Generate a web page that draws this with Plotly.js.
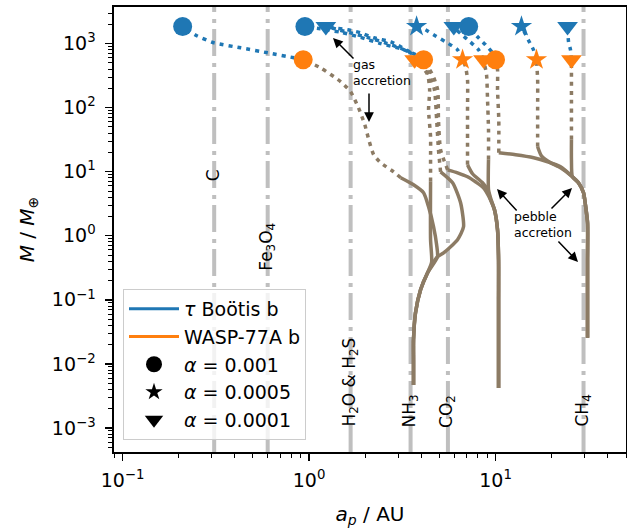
<!DOCTYPE html>
<html><head><meta charset="utf-8">
<script src="https://cdn.plot.ly/plotly-3.0.1.min.js"></script>
<style>html,body{margin:0;padding:0;background:#fff;}#chart{width:627px;height:529px;}</style>
</head><body><div id="chart"></div>
<script>
// ---------------- DATA (semi-major axis in AU, mass in Earth masses) ----------------
const iceLineAU = [0.31, 0.60, 1.67, 3.50, 5.55, 29.6];
const iceLabels = ['C', 'Fe<sub>3</sub>O<sub>4</sub>', 'H<sub>2</sub>O &amp; H<sub>2</sub>S', 'NH<sub>3</sub>', 'CO<sub>2</sub>', 'CH<sub>4</sub>'];

// start ~3.6 AU
const a1PebAU = [3.63, 3.63, 3.63, 3.72, 3.96, 4.32, 4.88, 4.83, 4.65, 4.37, 4.11, 3.63, 3.10];
const a1PebM  = [0.0047, 0.0116, 0.0238, 0.063, 0.144, 0.265, 0.47, 0.72, 1.38, 2.84, 4.69, 6.25, 8.04];
const a1GasAU = [3.10, 2.84, 2.42, 2.22, 2.09, 1.99, 1.84, 1.67, 1.48, 1.15, 0.93];
const a1GasM  = [8.04, 9.97, 13.8, 18.4, 31.5, 54.0, 99.6, 177, 253, 419, 560];
const a1TauAU = [0.93, 0.83, 0.60, 0.43, 0.31, 0.25, 0.21];
const a1TauM  = [560, 600, 718, 860, 1028, 1324, 1850];

const a2PebAU = [3.63, 3.63, 3.63, 3.72, 3.96, 4.32, 4.54, 4.48, 4.48];
const a2PebM  = [0.0047, 0.0116, 0.0238, 0.063, 0.144, 0.265, 0.39, 0.87, 6.96];
const a2GasAU = [4.48, 4.48, 4.48, 4.37, 4.43, 4.32, 3.96, 3.68];
const a2GasM  = [6.96, 15.4, 35.1, 92.6, 190, 326, 467, 560];
const a2TauAU = [3.68, 3.50, 3.10, 2.74, 2.22, 1.89, 1.61, 1.35, 1.23];
const a2TauM  = [560, 718, 891, 1067, 1232, 1473, 1641, 1763, 1850];

const a3PebAU = [3.63, 3.63, 3.63, 3.72, 3.96, 4.32, 4.88, 5.26, 6.25, 6.73, 6.49, 5.88, 5.07];
const a3PebM  = [0.0047, 0.0116, 0.0238, 0.063, 0.144, 0.265, 0.47, 0.54, 0.87, 1.38, 3.27, 6.72, 9.97];
const a3GasAU = [5.07, 4.94, 4.83, 4.70, 4.40, 3.90];
const a3GasM  = [9.97, 22.0, 64.0, 190, 326, 560];
const a3TauAU = [3.90, 3.55, 3.05, 2.55, 2.05, 1.65, 1.40, 1.23];
const a3TauM  = [560, 700, 860, 1030, 1250, 1480, 1680, 1850];

// start ~10 AU
const b1PebAU = [10.37, 10.37, 10.37, 10.37, 10.24, 9.86, 9.39, 8.61, 7.80, 7.07, 6.25, 5.53];
const b1PebM  = [0.0042, 0.0238, 0.100, 0.422, 1.24, 2.55, 3.65, 5.61, 6.96, 8.34, 9.62, 10.7];
const b1GasAU = [5.53, 5.07, 4.94, 4.89, 4.59, 4.11];
const b1GasM  = [10.7, 22.0, 64.6, 190, 326, 560];
const b1TauAU = [4.11, 3.70, 3.10, 2.42, 1.89, 1.48, 1.15, 0.95];
const b1TauM  = [560, 680, 830, 1000, 1250, 1500, 1700, 1850];

const b2PebAU = [10.37, 10.37, 10.37, 10.37, 10.24, 9.86, 9.39, 9.05, 8.51, 7.52, 7.07];
const b2PebM  = [0.0042, 0.0238, 0.100, 0.422, 1.24, 2.55, 3.65, 5.22, 6.72, 9.29, 12.8];
const b2GasAU = [7.07, 7.07, 7.07, 7.07, 6.90, 6.65];
const b2GasM  = [12.8, 31.5, 92.6, 272, 434, 560];
const b2TauAU = [6.65, 6.25, 5.39, 4.65, 4.21, 3.77];
const b2TauM  = [560, 800, 1067, 1371, 1641, 1850];

const b3PebAU = [10.37, 10.37, 10.37, 10.37, 10.24, 9.86, 9.39, 9.16, 9.16];
const b3PebM  = [0.0042, 0.0238, 0.100, 0.422, 1.24, 2.55, 3.92, 5.22, 15.4];
const b3GasAU = [9.16, 9.16, 9.05, 8.94, 8.61];
const b3GasM  = [15.4, 45.1, 133, 326, 560];
const b3TauAU = [8.61, 8.10, 7.30, 6.60, 6.17, 5.97];
const b3TauM  = [560, 800, 1067, 1371, 1641, 1850];

// start ~30 AU
const c1PebAU = [31.1, 31.1, 31.1, 31.1, 30.3, 29.6, 27.8, 25.8, 22.3, 19.0, 16.0, 12.8, 10.4];
const c1PebM  = [0.0256, 0.100, 0.422, 1.60, 3.05, 4.69, 6.72, 8.34, 11.9, 14.3, 16.5, 18.4, 19.7];
const c1GasAU = [10.4, 10.4, 10.24, 10.24, 9.99];
const c1GasM  = [19.7, 64.6, 190, 390, 560];
const c1TauAU = [9.99, 9.63, 8.83, 8.00, 7.17];
const c1TauM  = [560, 718, 957, 1276, 1850];

const c2PebAU = [31.1, 31.1, 31.1, 31.1, 30.3, 29.6, 27.8, 25.8, 22.3, 19.7, 17.6, 16.8];
const c2PebM  = [0.0256, 0.100, 0.422, 1.60, 3.05, 4.69, 6.72, 8.34, 11.5, 13.8, 17.7, 24.5];
const c2GasAU = [16.8, 16.8, 16.8, 16.56];
const c2GasM  = [24.5, 92.6, 272, 560];
const c2TauAU = [16.56, 15.96, 15.0, 14.2, 13.76];
const c2TauM  = [560, 800, 1130, 1550, 1850];

const c3PebAU = [31.1, 31.1, 31.1, 31.1, 30.3, 29.6, 27.8, 25.8, 25.5, 25.5];
const c3PebM  = [0.0256, 0.100, 0.422, 1.60, 3.05, 4.69, 6.72, 8.34, 15.4, 31.5];
const c3GasAU = [25.5, 25.5, 25.5, 25.5];
const c3GasM  = [31.5, 133, 326, 560];
const c3TauAU = [25.5, 25.2, 24.6, 24.3];
const c3TauM  = [560, 800, 1067, 1850];

// final positions
const tauBooMass  = 1850;
const wasp77Mass  = 560;
const tauCircAU   = [0.21, 0.95, 7.17];
const tauStarAU   = [3.77, 13.76];
const tauTriAU    = [1.23, 5.97, 24.3];
const waspCircAU  = [0.93, 4.11, 9.99];
const waspStarAU  = [6.65, 16.56];
const waspTriAU   = [3.68, 8.61, 25.5];

const legendNames = ['<i>τ</i> Boötis b', 'WASP-77A b', '<i>α</i> = 0.001', '<i>α</i> = 0.0005', '<i>α</i> = 0.0001'];
const xTickVals = [0.1, 1, 10];
const xTickText = ['10<sup>−1</sup>', '10<sup>0</sup>', '10<sup>1</sup>'];
const yTickVals = [1e-3, 1e-2, 1e-1, 1, 10, 100, 1000];
const yTickText = ['10<sup>−3</sup>', '10<sup>−2</sup>', '10<sup>−1</sup>', '10<sup>0</sup>', '10<sup>1</sup>', '10<sup>2</sup>', '10<sup>3</sup>'];

// ---------------- STYLE ----------------
const BLUE = '#1f77b4', ORANGE = '#ff7f0e', BROWN = '#8c7b64', GRAY = '#bfbfbf';
const FONT = 'DejaVu Sans';
const xRange = [Math.log10(0.09), Math.log10(50)];
const yRange = [-3.375, 3.571];
const DOT = '4px,5px';

const sims = [
  [a1PebAU, a1PebM, a1GasAU, a1GasM, a1TauAU, a1TauM],
  [a2PebAU, a2PebM, a2GasAU, a2GasM, a2TauAU, a2TauM],
  [a3PebAU, a3PebM, a3GasAU, a3GasM, a3TauAU, a3TauM],
  [b1PebAU, b1PebM, b1GasAU, b1GasM, b1TauAU, b1TauM],
  [b2PebAU, b2PebM, b2GasAU, b2GasM, b2TauAU, b2TauM],
  [b3PebAU, b3PebM, b3GasAU, b3GasM, b3TauAU, b3TauM],
  [c1PebAU, c1PebM, c1GasAU, c1GasM, c1TauAU, c1TauM],
  [c2PebAU, c2PebM, c2GasAU, c2GasM, c2TauAU, c2TauM],
  [c3PebAU, c3PebM, c3GasAU, c3GasM, c3TauAU, c3TauM]
];

const traces = [];
iceLineAU.forEach(v => traces.push({
  x: [v, v], y: [Math.pow(10, yRange[0]), Math.pow(10, yRange[1])], mode: 'lines',
  line: {color: GRAY, width: 4, dash: '27px,6px,4px,7px'}, showlegend: false, hoverinfo: 'skip'
}));
sims.forEach(s => traces.push({x: s[0], y: s[1], mode: 'lines', line: {color: BROWN, width: 3.5, shape: 'spline', smoothing: 0.6}, showlegend: false, hoverinfo: 'skip'}));
sims.forEach(s => traces.push({x: s[2], y: s[3], mode: 'lines', line: {color: BROWN, width: 3.5, dash: DOT, shape: 'spline', smoothing: 0.6}, showlegend: false, hoverinfo: 'skip'}));
sims.forEach(s => traces.push({x: s[4], y: s[5], mode: 'lines', line: {color: BLUE, width: 3.5, dash: DOT, shape: 'spline', smoothing: 0.6}, showlegend: false, hoverinfo: 'skip'}));

function mk(xs, mass, color, symbol, size) {
  return {x: xs, y: xs.map(() => mass), mode: 'markers', marker: {color: color, symbol: symbol, size: size, line: {width: 0}}, showlegend: false, hoverinfo: 'skip'};
}
traces.push(mk(waspStarAU, wasp77Mass, ORANGE, 'star', 16));
traces.push(mk(waspTriAU, wasp77Mass, ORANGE, 'triangle-down', 18));
traces.push(mk(waspCircAU, wasp77Mass, ORANGE, 'circle', 19));
traces.push(mk(tauStarAU, tauBooMass, BLUE, 'star', 16));
traces.push(mk(tauCircAU, tauBooMass, BLUE, 'circle', 19));
traces.push(mk(tauTriAU, tauBooMass, BLUE, 'triangle-down', 18));

traces.push({x: [null], y: [null], mode: 'lines', line: {color: BLUE, width: 3}, name: legendNames[0]});
traces.push({x: [null], y: [null], mode: 'lines', line: {color: ORANGE, width: 3}, name: legendNames[1]});
traces.push({x: [null], y: [null], mode: 'markers', marker: {color: 'black', symbol: 'circle', size: 16}, name: legendNames[2]});
traces.push({x: [null], y: [null], mode: 'markers', marker: {color: 'black', symbol: 'star', size: 13}, name: legendNames[3]});
traces.push({x: [null], y: [null], mode: 'markers', marker: {color: 'black', symbol: 'triangle-down', size: 16}, name: legendNames[4]});

const W = 512, H = 445, L0 = 114, T0 = 7;
const px = v => (v - L0) / W;
const py = v => (T0 + H - v) / H;
const annotations = [];
const iceLabelYpx = [175, 247, 382, 411, 411, 411];
iceLineAU.forEach((v, i) => annotations.push({
  xref: 'x', yref: 'paper', x: Math.log10(v), y: py(iceLabelYpx[i]), text: iceLabels[i],
  textangle: -90, showarrow: false, xanchor: 'center', yanchor: 'middle', xshift: -1,
  font: {family: FONT, size: 17, color: 'black'}
}));
annotations.push({xref: 'paper', yref: 'paper', x: px(351), y: py(72), text: 'gas<br>accretion', align: 'left', xanchor: 'left', yanchor: 'middle', showarrow: false, font: {family: FONT, size: 12.5, color: 'black'}});
annotations.push({xref: 'paper', yref: 'paper', x: px(512), y: py(224), text: 'pebble<br>accretion', align: 'left', xanchor: 'left', yanchor: 'middle', showarrow: false, font: {family: FONT, size: 12.5, color: 'black'}});
const arrows = [[333, 38, 22, 22], [369, 122, 0, -30], [497, 189, 21, 23], [572, 188, -22, 22], [578, 262, -21, -22]];
arrows.forEach(a => annotations.push({xref: 'paper', yref: 'paper', x: px(a[0]), y: py(a[1]), ax: a[2], ay: a[3], text: '', showarrow: true, arrowhead: 2, arrowsize: 1.3, arrowwidth: 1.5, arrowcolor: 'black'}));

const axisCommon = {
  type: 'log', showgrid: false, zeroline: false, showline: true, linecolor: 'black', linewidth: 1.6, mirror: true,
  ticks: 'outside', ticklen: 7, tickwidth: 1.4, tickcolor: 'black', tickmode: 'array',
  tickfont: {family: FONT, size: 19, color: 'black'},
  minor: {ticks: 'outside', ticklen: 4, tickwidth: 1, tickcolor: 'black', dtick: 'D1', showgrid: false}
};

const layout = {
  width: 627, height: 529,
  margin: {l: 114, r: 1, t: 7, b: 77},
  paper_bgcolor: 'white', plot_bgcolor: 'white',
  font: {family: FONT, color: 'black'},
  showlegend: true,
  legend: {x: px(123), y: py(289), xanchor: 'left', yanchor: 'top', bgcolor: 'rgba(255,255,255,0.8)', bordercolor: '#cccccc', borderwidth: 1, itemwidth: 50, font: {family: FONT, size: 19, color: 'black'}, tracegroupgap: 0},
  xaxis: Object.assign({}, axisCommon, {range: xRange, tickvals: xTickVals, ticktext: xTickText, ticklabelstandoff: 4,
    title: {text: '<i>a<sub>p</sub></i> / AU', font: {family: FONT, size: 20, color: 'black'}, standoff: 16}}),
  yaxis: Object.assign({}, axisCommon, {range: yRange, tickvals: yTickVals, ticktext: yTickText, ticklabelstandoff: 6,
    title: {text: '<i>M</i> / <i>M</i><sub>⊕</sub>', font: {family: FONT, size: 20, color: 'black'}, standoff: 12}}),
  annotations: annotations
};

Plotly.newPlot('chart', traces, layout, {displayModeBar: false, staticPlot: true});
</script></body></html>
